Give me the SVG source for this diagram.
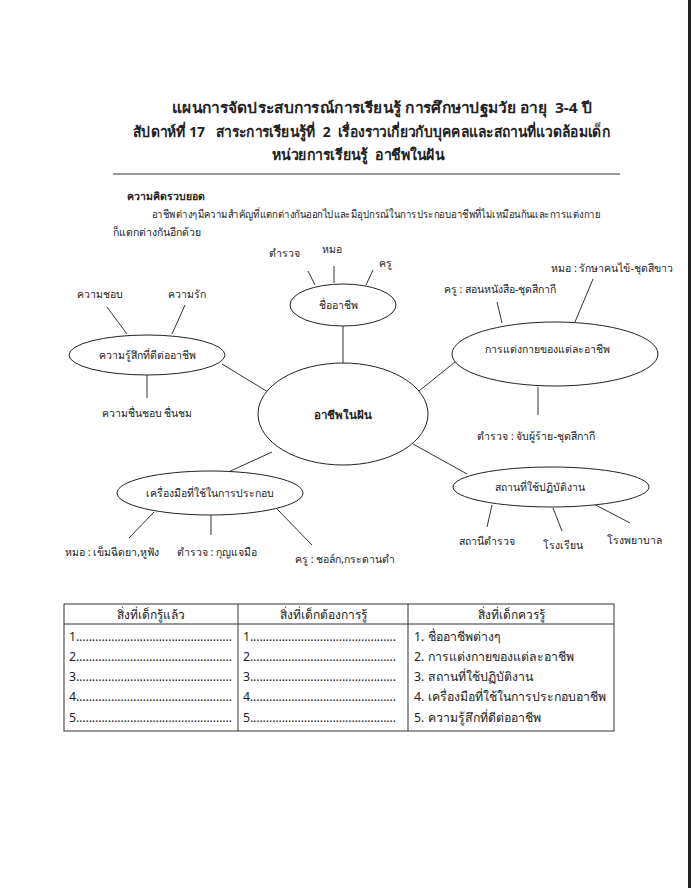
<svg xmlns="http://www.w3.org/2000/svg" width="691" height="888" viewBox="0 0 691 888">
<style>
text{font-family:Tahoma,"Noto Sans","DejaVu Sans",sans-serif;fill:#222;white-space:pre}
.t{font-size:15px;font-weight:bold}
.h{font-size:10.5px;font-weight:bold}
.p{font-size:10.5px}
.m{font-size:10.5px;text-anchor:middle}
.c{font-size:11.5px;font-weight:bold;text-anchor:middle}
.tb{font-size:12.3px}
.tbh{font-size:12px;text-anchor:middle}
.n{fill:#fff;stroke:#222;stroke-width:1}
.ln{stroke:#333;stroke-width:1;fill:none}
</style>
<rect width="691" height="888" fill="#fff"/>
<rect x="688" y="0" width="3" height="888" fill="#222"/>
<g id="title">
<text class="t" x="172" y="113" textLength="420" lengthAdjust="spacingAndGlyphs" xml:space="preserve">แผนการจัดประสบการณ์การเรียนรู้ การศึกษาปฐมวัย อายุ  3-4 ปี</text>
<text class="t" x="133" y="137" textLength="477" lengthAdjust="spacingAndGlyphs" xml:space="preserve">สัปดาห์ที่ 17   สาระการเรียนรู้ที่  2  เรื่องราวเกี่ยวกับบุคคลและสถานที่แวดล้อมเด็ก</text>
<text class="t" x="272" y="160" textLength="172" lengthAdjust="spacingAndGlyphs" xml:space="preserve">หน่วยการเรียนรู้  อาชีพในฝัน</text>
<line x1="113" y1="174" x2="620" y2="174" stroke="#777" stroke-width="1.3"/>
</g>
<g id="concept">
<text class="h" x="127" y="200">ความคิดรวบยอด</text>
<text class="p" x="152" y="218" textLength="448" lengthAdjust="spacingAndGlyphs">อาชีพต่างๆมีความสำคัญที่แตกต่างกันออกไปและมีอุปกรณ์ในการประกอบอาชีพที่ไม่เหมือนกันและการแต่งกาย</text>
<text class="p" x="113" y="236">ก็แตกต่างกันอีกด้วย</text>
</g>
<g id="connectors" class="ln">
<line x1="343" y1="326" x2="343" y2="364"/>
<line x1="222" y1="364" x2="268" y2="392"/>
<line x1="419" y1="391" x2="455" y2="362"/>
<line x1="272" y1="452" x2="224" y2="474"/>
<line x1="413" y1="444" x2="467" y2="474"/>
<line x1="308" y1="271" x2="315" y2="285"/>
<line x1="334" y1="266" x2="334" y2="283"/>
<line x1="373" y1="270" x2="366" y2="285"/>
<line x1="107" y1="307" x2="127" y2="334"/>
<line x1="185" y1="305" x2="172" y2="334"/>
<line x1="147" y1="375" x2="147" y2="398"/>
<line x1="497" y1="302" x2="502" y2="323"/>
<line x1="593" y1="279" x2="575" y2="322"/>
<line x1="538" y1="387" x2="538" y2="415"/>
<line x1="154" y1="512" x2="129" y2="538"/>
<line x1="211" y1="515" x2="211" y2="535"/>
<line x1="277" y1="509" x2="312" y2="545"/>
<line x1="492" y1="505" x2="487" y2="527"/>
<line x1="553" y1="508" x2="562" y2="531"/>
<line x1="590" y1="502" x2="630" y2="523"/>
</g>
<g id="center">
<ellipse class="n" cx="343" cy="414" rx="85" ry="51"/>
<text class="c" x="343" y="419">อาชีพในฝัน</text>
</g>
<g id="names">
<ellipse class="n" cx="343" cy="305" rx="53" ry="21"/>
<text class="m" x="338" y="309">ชื่ออาชีพ</text>
<text class="m" x="284" y="257">ตำรวจ</text>
<text class="m" x="332" y="253">หมอ</text>
<text class="m" x="385" y="267">ครู</text>
</g>
<g id="feelings">
<ellipse class="n" cx="147" cy="355" rx="78" ry="20"/>
<text class="m" x="147" y="359">ความรู้สึกที่ดีต่ออาชีพ</text>
<text class="m" x="100" y="298">ความชอบ</text>
<text class="m" x="187" y="298">ความรัก</text>
<text class="m" x="147" y="417">ความชื่นชอบ ชื่นชม</text>
</g>
<g id="dress">
<ellipse class="n" cx="555" cy="354" rx="103" ry="32"/>
<text class="m" x="547" y="353">การแต่งกายของแต่ละอาชีพ</text>
<text class="m" x="500" y="293">ครู : สอนหนังสือ-ชุดสีกากี</text>
<text class="m" x="612" y="272">หมอ : รักษาคนไข้-ชุดสีขาว</text>
<text class="m" x="536" y="440">ตำรวจ : จับผู้ร้าย-ชุดสีกากี</text>
</g>
<g id="tools">
<ellipse class="n" cx="210" cy="493" rx="93" ry="22"/>
<text class="m" x="210" y="497">เครื่องมือที่ใช้ในการประกอบ</text>
<text class="m" x="112" y="556">หมอ : เข็มฉีดยา,หูฟัง</text>
<text class="m" x="217" y="556">ตำรวจ : กุญแจมือ</text>
<text class="m" x="345" y="563">ครู : ชอล์ก,กระดานดำ</text>
</g>
<g id="places">
<ellipse class="n" cx="551" cy="487" rx="98" ry="20"/>
<text class="m" x="540" y="491">สถานที่ใช้ปฏิบัติงาน</text>
<text class="m" x="487" y="545">สถานีตำรวจ</text>
<text class="m" x="563" y="549">โรงเรียน</text>
<text class="m" x="634" y="544">โรงพยาบาล</text>
</g>
<g id="table">
<rect x="64" y="604" width="550" height="127" fill="none" stroke="#333" stroke-width="1"/>
<line x1="64" y1="624" x2="614" y2="624" stroke="#333"/>
<line x1="238" y1="604" x2="238" y2="731" stroke="#333"/>
<line x1="408" y1="604" x2="408" y2="731" stroke="#333"/>
<text class="tbh" x="151" y="619">สิ่งที่เด็กรู้แล้ว</text>
<text class="tbh" x="323" y="619">สิ่งที่เด็กต้องการรู้</text>
<text class="tbh" x="511" y="619">สิ่งที่เด็กควรรู้</text>
<text class="tb" x="69" y="641" textLength="163" lengthAdjust="spacing">1.................................................</text>
<text class="tb" x="69" y="661" textLength="163" lengthAdjust="spacing">2.................................................</text>
<text class="tb" x="69" y="681" textLength="163" lengthAdjust="spacing">3.................................................</text>
<text class="tb" x="69" y="701" textLength="163" lengthAdjust="spacing">4.................................................</text>
<text class="tb" x="69" y="722" textLength="163" lengthAdjust="spacing">5.................................................</text>
<text class="tb" x="243" y="641" textLength="153" lengthAdjust="spacing">1..............................................</text>
<text class="tb" x="243" y="661" textLength="153" lengthAdjust="spacing">2..............................................</text>
<text class="tb" x="243" y="681" textLength="153" lengthAdjust="spacing">3..............................................</text>
<text class="tb" x="243" y="701" textLength="153" lengthAdjust="spacing">4..............................................</text>
<text class="tb" x="243" y="722" textLength="153" lengthAdjust="spacing">5..............................................</text>
<text class="tb" x="414" y="641">1. ชื่ออาชีพต่างๆ</text>
<text class="tb" x="414" y="661">2. การแต่งกายของแต่ละอาชีพ</text>
<text class="tb" x="414" y="681">3. สถานที่ใช้ปฏิบัติงาน</text>
<text class="tb" x="414" y="701">4. เครื่องมือที่ใช้ในการประกอบอาชีพ</text>
<text class="tb" x="414" y="722">5. ความรู้สึกที่ดีต่ออาชีพ</text>
</g>
</svg>
